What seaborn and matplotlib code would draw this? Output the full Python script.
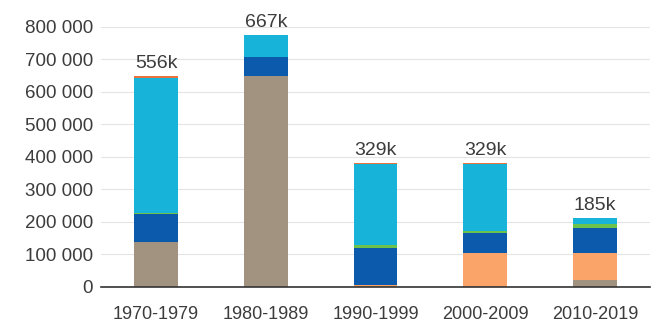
import matplotlib

matplotlib.use("Agg")

import matplotlib.pyplot as plt
import numpy as np
import pandas as pd
import seaborn as sns

# decades on the x axis
DECADES = ["1970-1979", "1980-1989", "1990-1999", "2000-2009", "2010-2019"]

# stacked segments, bottom to top
GREY = [138000, 649000, 0, 0, 22000]
PEACH = [0, 0, 5000, 105000, 82000]
DARK_BLUE = [86000, 60000, 115000, 61000, 78000]
GREEN = [4000, 0, 9000, 7000, 12000]
CYAN = [415000, 66000, 249000, 205000, 17000]
ORANGE = [7000, 1000, 2000, 2000, 0]

TOP_LABELS = ["556k", "667k", "329k", "329k", "185k"]

Y_TICKS = [0, 100000, 200000, 300000, 400000, 500000, 600000, 700000, 800000]
Y_TICK_LABELS = ["0", "100 000", "200 000", "300 000", "400 000",
                 "500 000", "600 000", "700 000", "800 000"]

SEGMENTS = [
    ("grey", GREY, "#a29280"),
    ("peach", PEACH, "#fba46a"),
    ("dark_blue", DARK_BLUE, "#0b5aab"),
    ("green", GREEN, "#6cc24a"),
    ("cyan", CYAN, "#17b3d8"),
    ("orange", ORANGE, "#e8743b"),
]


def main() -> None:
    sns.set_theme(style="white")
    plt.rcParams["font.family"] = ["Liberation Sans", "DejaVu Sans"]

    df = pd.DataFrame({"decade": DECADES})
    running = np.zeros(len(DECADES))
    for name, vals, _ in SEGMENTS:
        running = running + np.array(vals, dtype=float)
        df[name] = running.copy()

    fig = plt.figure(figsize=(6.53, 3.29), dpi=100)
    ax = fig.add_axes([0.155, 0.128, 0.84, 0.79])

    # draw cumulative totals from the top layer down so each covers the next
    for name, _, color in reversed(SEGMENTS):
        sns.barplot(data=df, x="decade", y=name, order=DECADES, color=color,
                    width=0.4, saturation=1, edgecolor="none", linewidth=0, ax=ax)

    for i, label in enumerate(TOP_LABELS):
        ax.annotate(label, (i, df["orange"].iloc[i]), xytext=(0, 3),
                    textcoords="offset points", ha="center", va="bottom",
                    fontsize=14, color="#3c3c3c", annotation_clip=False)

    ax.set_xlim(-0.5, len(DECADES) - 0.5)
    ax.set_ylim(0, 800000)
    ax.set_yticks(Y_TICKS)
    ax.set_yticklabels(Y_TICK_LABELS)
    ax.set_xlabel("")
    ax.set_ylabel("")
    ax.tick_params(axis="both", length=0, labelcolor="#3c3c3c")
    ax.tick_params(axis="y", pad=6, labelsize=13.5)
    ax.tick_params(axis="x", pad=14, labelsize=13)
    ax.yaxis.grid(True, color="#e4e4e4", linewidth=0.8)
    ax.set_axisbelow(True)
    for side in ["top", "right", "left"]:
        ax.spines[side].set_visible(False)
    ax.spines["bottom"].set_color("#333333")
    ax.spines["bottom"].set_linewidth(1.2)

    fig.savefig("out.png", dpi=100, facecolor="white")
    plt.close(fig)


if __name__ == "__main__":
    main()
